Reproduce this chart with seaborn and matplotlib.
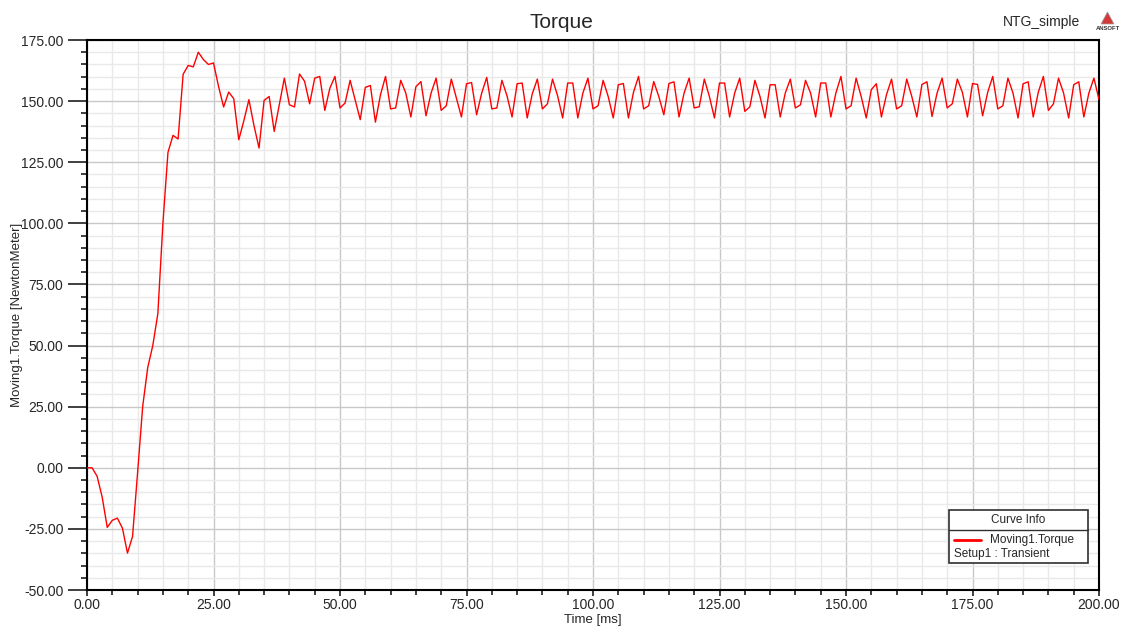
import numpy as np
import pandas as pd
import matplotlib
matplotlib.use("Agg")
import matplotlib.pyplot as plt
import seaborn as sns
from matplotlib.patches import Rectangle, Polygon
from matplotlib.lines import Line2D
from matplotlib.ticker import MultipleLocator, FormatStrFormatter

# ---------------- data ----------------
title = "Torque"
project = "NTG_simple"
x_label = "Time [ms]"
y_label = "Moving1.Torque [NewtonMeter]"
series_name = "Moving1.Torque"
setup_name = "Setup1 : Transient"

time_ms = list(range(0, 201))
torque = [
    0.0, 0.0, -3.5, -12.0, -24.4, -21.5, -20.6, -24.7, -34.9, -28.1,
    -2.0, 25.0, 41.0, 50.0, 63.0, 100.0, 129.0, 136.0, 134.5, 161.0,
    164.6, 164.0, 170.0, 167.0, 165.0, 165.6, 156.0, 147.6, 153.7, 151.0,
    134.2, 142.0, 150.6, 140.0, 130.8, 150.3, 151.9, 137.6, 148.5, 159.4,
    148.5, 147.6, 161.1, 158.1, 148.9, 159.4, 160.1, 146.2, 155.3, 160.1,
    147.2, 149.2, 158.5, 150.5, 142.4, 155.6, 156.4, 141.4, 152.6, 160.1,
    146.8, 147.2, 158.5, 153.3, 143.5, 155.9, 158.0, 144.0, 153.3, 159.4,
    146.2, 148.1, 159.0, 151.3, 143.5, 157.1, 157.6, 144.4, 153.3, 159.7,
    146.8, 147.2, 158.5, 152.2, 143.5, 157.1, 157.4, 143.1, 153.0, 159.0,
    146.8, 148.9, 159.0, 152.2, 143.1, 157.4, 157.4, 143.1, 153.3, 159.4,
    146.8, 148.1, 158.5, 151.9, 143.1, 156.7, 157.2, 143.1, 153.6, 160.1,
    146.8, 148.1, 158.0, 151.9, 144.4, 157.2, 157.9, 143.5, 153.3, 159.4,
    147.2, 147.7, 159.0, 151.9, 143.1, 157.4, 157.4, 143.5, 153.3, 159.4,
    145.8, 147.7, 158.5, 151.9, 143.1, 156.7, 156.7, 143.5, 153.3, 159.0,
    147.2, 148.5, 158.5, 153.3, 143.5, 157.4, 157.4, 143.5, 153.3, 160.1,
    146.8, 148.1, 159.4, 151.9, 143.1, 154.7, 157.1, 143.5, 152.6, 159.0,
    146.8, 148.1, 159.0, 151.9, 143.5, 156.8, 157.9, 143.7, 153.3, 159.4,
    147.2, 148.9, 159.0, 153.6, 143.5, 157.2, 156.8, 144.0, 153.6, 160.1,
    146.8, 148.1, 159.4, 153.3, 143.1, 157.1, 157.9, 143.5, 153.6, 160.1,
    146.2, 148.9, 159.4, 153.3, 143.1, 156.7, 157.9, 143.5, 153.3, 159.4,
    150.6,
]
x_ticks = [0, 25, 50, 75, 100, 125, 150, 175, 200]
y_ticks = [-50, -25, 0, 25, 50, 75, 100, 125, 150, 175]

df = pd.DataFrame({"Time": time_ms, "Torque": torque})

# ---------------- style ----------------
sns.set_style("white")
plt.rcParams["font.family"] = ["Liberation Sans", "DejaVu Sans"]

W, H = 1122, 626
fig = plt.figure(figsize=(W / 100, H / 100), dpi=100)
fig.patch.set_facecolor("white")

def fx(px):
    return px / W

def fy(py):
    return 1 - py / H

ax = fig.add_axes([fx(87), fy(590), fx(1099) - fx(87), fy(40) - fy(590)])

sns.lineplot(data=df, x="Time", y="Torque", ax=ax, color="#ff0000",
             linewidth=1.0, zorder=5, legend=False)

ax.set_xlim(x_ticks[0], x_ticks[-1])
ax.set_ylim(y_ticks[0], y_ticks[-1])
ax.set_xticks(x_ticks)
ax.set_yticks(y_ticks)
ax.xaxis.set_minor_locator(MultipleLocator(5))
ax.yaxis.set_minor_locator(MultipleLocator(5))
ax.xaxis.set_major_formatter(FormatStrFormatter("%.2f"))
ax.yaxis.set_major_formatter(FormatStrFormatter("%.2f"))

ax.grid(which="minor", color="#e9e9e9", linewidth=1.0, zorder=0)
ax.grid(which="major", color="#c8c8c8", linewidth=1.0, zorder=1)
ax.set_axisbelow(True)

for s in ax.spines.values():
    s.set_color("black")
    s.set_linewidth(1.5)
    s.set_visible(True)

ax.tick_params(axis="y", which="major", direction="out", length=13.5, width=1.3,
               color="#303030", labelsize=10, pad=3.5, left=True)
ax.tick_params(axis="y", which="minor", direction="out", length=4, width=1.3,
               color="#303030", left=True)
ax.tick_params(axis="x", which="major", direction="out", length=4.5, width=1.3,
               color="#303030", labelsize=10, pad=1.5, bottom=True)
ax.tick_params(axis="x", which="minor", direction="out", length=3.5, width=1.3,
               color="#303030", bottom=True)

ax.set_xlabel("")
ax.set_ylabel("")

# axis labels
fig.text(fx(593), fy(620), x_label, ha="center", va="center", fontsize=9.5)
fig.text(fx(17), fy(315), y_label, ha="center", va="center", fontsize=9.5,
         rotation=90)

# title and project name
fig.text(fx(561), fy(23), title, ha="center", va="center", fontsize=15)
fig.text(fx(1042), fy(22), project, ha="center", va="center", fontsize=10)

# small logo
logo = Polygon([[fx(1101), fy(24)], [fx(1114), fy(24)], [fx(1107.5), fy(12)]],
               closed=True, transform=fig.transFigure, facecolor="#d23a3a",
               edgecolor="#a0a0a0", linewidth=0.5)
fig.add_artist(logo)
fig.text(fx(1108), fy(29), "ANSOFT", ha="center", va="center", fontsize=4.2,
         fontweight="bold", color="#333333")

# legend box "Curve Info"
box = Rectangle((fx(949), fy(563)), fx(1088) - fx(949), fy(510) - fy(563),
                transform=fig.transFigure, facecolor="white",
                edgecolor="#303030", linewidth=1.2, zorder=10)
fig.add_artist(box)
fig.add_artist(Line2D([fx(949), fx(1088)], [fy(530), fy(530)],
                      transform=fig.transFigure, color="#303030", linewidth=1.0,
                      zorder=11))
fig.text(fx(1018), fy(520), "Curve Info", ha="center", va="center", fontsize=8.5,
         zorder=12)
fig.add_artist(Line2D([fx(954), fx(981)], [fy(540), fy(540)],
                      transform=fig.transFigure, color="#ff0000", linewidth=2.0,
                      zorder=11))
fig.text(fx(990), fy(540), series_name, ha="left", va="center", fontsize=8.5,
         zorder=12)
fig.text(fx(954), fy(553.5), setup_name, ha="left", va="center", fontsize=8.5,
         zorder=12)

fig.savefig("out.png", dpi=100, facecolor="white")
